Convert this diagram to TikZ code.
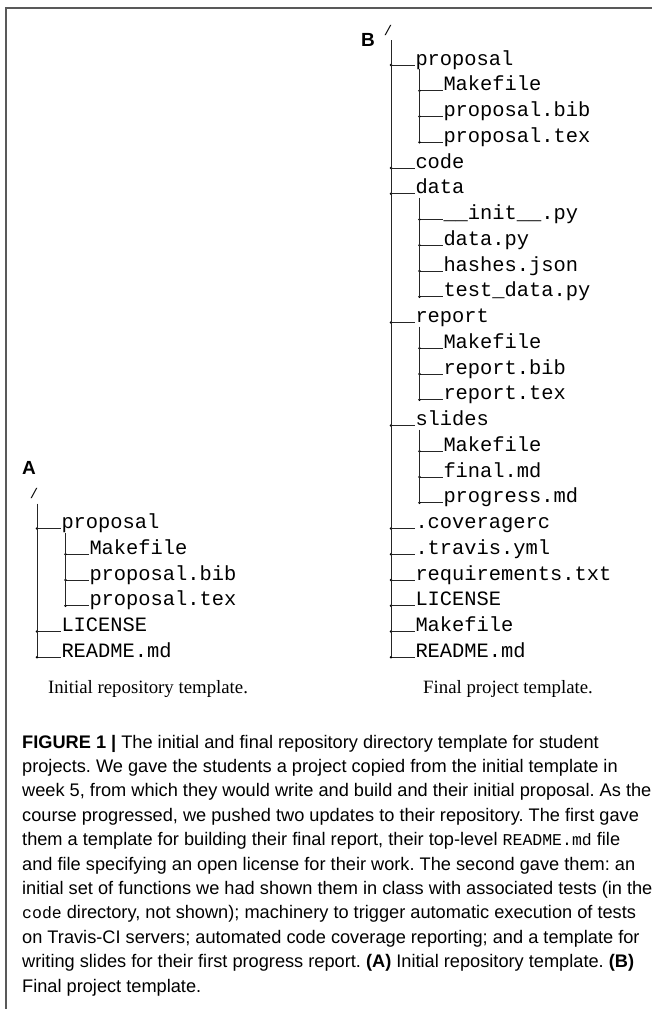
\documentclass[tikz,border=0pt]{standalone}
\usepackage{fontspec}
\setmainfont{Liberation Serif}
\setsansfont{Liberation Sans}
\setmonofont{Liberation Mono}
\frenchspacing
\tikzset{
  file/.style={anchor=base west, inner sep=0pt, outer sep=0pt, font=\fontsize{20.4}{24}\selectfont\ttfamily},
  rootslash/.style={anchor=base, inner sep=0pt, font=\fontsize{14}{16}\selectfont\ttfamily},
  branch/.style={line width=0.9pt, draw=black!85},
  panel/.style={anchor=base west, inner sep=0pt, font=\fontsize{19}{21}\selectfont\sffamily\bfseries},
  subcap/.style={anchor=base, inner sep=0pt, font=\fontsize{18.8}{22}\selectfont\rmfamily},
  capline/.style={anchor=base west, inner sep=0pt, font=\fontsize{18.2}{24.4}\selectfont\sffamily},
  frame/.style={line width=1.3pt, draw=black!65}
}
\newcommand\capmono[1]{{\fontsize{16.5}{18}\selectfont\ttfamily #1}}
\newcommand\tentry[5]{%
  \coordinate (j#1) at (#2,#4);
  \node[file] (n#1) at (#3,#4) {#5};
  \draw[branch] (j#1) -- ([xshift=-0.8pt]n#1.base west);
  \fill[black] (j#1) circle (1.3pt);
}
\begin{document}
\begin{tikzpicture}[x=1pt,y=-1pt]
\useasboundingbox (0,0) rectangle (652,1009);
\fill[white] (0,0) rectangle (652,1009);
% frame
\coordinate (fTL) at (6,8);
\coordinate (fTR) at (652,8);
\coordinate (fBL) at (6,1009);
\draw[frame] (fTR) -- (fTL) -- (fBL);

% ---------------- Tree B ----------------
\node[panel] (labB) at (361,46.5) {B};
\node[rootslash] (rootB) at (388,35) {/};
\coordinate (tB) at (391,40);
\tentry{B0}{391}{415.5}{65}{proposal}
\tentry{B1}{419.5}{443.5}{90.75}{Makefile}
\tentry{B2}{419.5}{443.5}{116.5}{proposal.bib}
\tentry{B3}{419.5}{443.5}{142.25}{proposal.tex}
\tentry{B4}{391}{415.5}{168}{code}
\tentry{B5}{391}{415.5}{193.75}{data}
\tentry{B6}{419.5}{443.5}{219.5}{\_\_init\_\_.py}
\tentry{B7}{419.5}{443.5}{245.25}{data.py}
\tentry{B8}{419.5}{443.5}{271}{hashes.json}
\tentry{B9}{419.5}{443.5}{296.75}{test\_data.py}
\tentry{B10}{391}{415.5}{322.5}{report}
\tentry{B11}{419.5}{443.5}{348.25}{Makefile}
\tentry{B12}{419.5}{443.5}{374}{report.bib}
\tentry{B13}{419.5}{443.5}{399.75}{report.tex}
\tentry{B14}{391}{415.5}{425.5}{slides}
\tentry{B15}{419.5}{443.5}{451.25}{Makefile}
\tentry{B16}{419.5}{443.5}{477}{final.md}
\tentry{B17}{419.5}{443.5}{502.75}{progress.md}
\tentry{B18}{391}{415.5}{528.5}{.coveragerc}
\tentry{B19}{391}{415.5}{554.25}{.travis.yml}
\tentry{B20}{391}{415.5}{580}{requirements.txt}
\tentry{B21}{391}{415.5}{605.75}{LICENSE}
\tentry{B22}{391}{415.5}{631.5}{Makefile}
\tentry{B23}{391}{415.5}{657.25}{README.md}
\draw[branch] (tB) -- (jB23);
\coordinate (sB0) at (419.5,69);
\draw[branch] (sB0) -- (jB3);
\coordinate (sB5) at (419.5,197.75);
\draw[branch] (sB5) -- (jB9);
\coordinate (sB10) at (419.5,326.5);
\draw[branch] (sB10) -- (jB13);
\coordinate (sB14) at (419.5,429.5);
\draw[branch] (sB14) -- (jB17);
\node[subcap] (capB) at (508,693) {Final project template.};

% ---------------- Tree A ----------------
\node[panel] (labA) at (22,474) {A};
\node[rootslash] (rootA) at (34,498.5) {/};
\coordinate (tA) at (37,503.5);
\tentry{A0}{37}{61.5}{528.5}{proposal}
\tentry{A1}{65.5}{89.5}{554.25}{Makefile}
\tentry{A2}{65.5}{89.5}{580}{proposal.bib}
\tentry{A3}{65.5}{89.5}{605.75}{proposal.tex}
\tentry{A4}{37}{61.5}{631.5}{LICENSE}
\tentry{A5}{37}{61.5}{657.25}{README.md}
\draw[branch] (tA) -- (jA5);
\coordinate (sA0) at (65.5,532.5);
\draw[branch] (sA0) -- (jA3);
\node[subcap] (capA) at (148,693) {Initial repository template.};

% ---------------- Caption ----------------
\node[capline] (c1) at (22,748) {\textbf{FIGURE 1 |} The initial and final repository directory template for student};
\node[capline] (c2) at (22,772.4) {projects. We gave the students a project copied from the initial template in};
\node[capline] (c3) at (22,796.8) {week 5, from which they would write and build and their initial proposal. As the};
\node[capline] (c4) at (22,821.2) {course progressed, we pushed two updates to their repository. The first gave};
\node[capline] (c5) at (22,845.6) {them a template for building their final report, their top-level \capmono{README.md} file};
\node[capline] (c6) at (22,870) {and file specifying an open license for their work. The second gave them: an};
\node[capline] (c7) at (22,894.4) {initial set of functions we had shown them in class with associated tests (in the};
\node[capline] (c8) at (22,918.8) {\capmono{code} directory, not shown); machinery to trigger automatic execution of tests};
\node[capline] (c9) at (22,943.2) {on Travis-CI servers; automated code coverage reporting; and a template for};
\node[capline] (c10) at (22,967.6) {writing slides for their first progress report. \textbf{(A)} Initial repository template. \textbf{(B)}};
\node[capline] (c11) at (22,992) {Final project template.};
\end{tikzpicture}
\end{document}
